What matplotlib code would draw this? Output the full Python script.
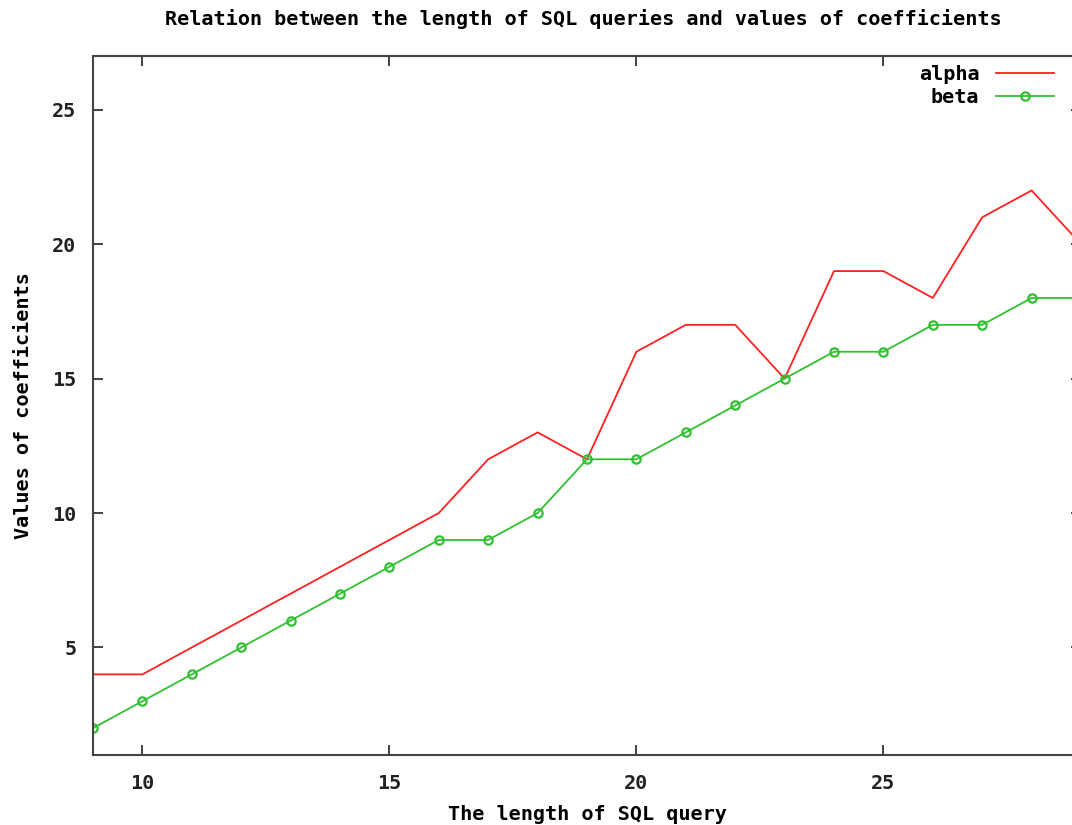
import matplotlib
matplotlib.use("Agg")
import matplotlib.pyplot as plt

# query length vs. fitted coefficients
query_len = [9, 10, 11, 12, 13, 14, 15, 16, 17, 18, 19, 20, 21, 22, 23, 24, 25, 26, 27, 28, 29]
alpha = [4, 4, 5, 6, 7, 8, 9, 10, 12, 13, 12, 16, 17, 17, 15, 19, 19, 18, 21, 22, 20]
beta = [2, 3, 4, 5, 6, 7, 8, 9, 9, 10, 12, 12, 13, 14, 15, 16, 16, 17, 17, 18, 18]

xticks = [10, 15, 20, 25]
yticks = [5, 10, 15, 20, 25]

plt.rcParams['font.family'] = ['DejaVu Sans Mono']
plt.rcParams['font.weight'] = 'bold'
FS = 14.5

fig = plt.figure(figsize=(10.72, 8.25), dpi=100)
# right side of the plot box runs just past the canvas edge
ax = fig.add_axes([93 / 1072, 70 / 825, 988 / 1072, 699 / 825])

ax.plot(query_len, alpha, color='#ff2020', lw=1.3, label='alpha')
ax.plot(query_len, beta, color='#30c030', lw=1.3, marker='o', ms=6,
        mfc='none', mew=1.6, label='beta')

ax.set_xlim(9, 29)
ax.set_ylim(1, 27)
ax.set_xticks(xticks)
ax.set_yticks(yticks)
ax.tick_params(direction='in', length=7, width=1.3, top=True, right=True,
               labelsize=FS, colors='#333333', labelcolor='#222222')
ax.tick_params(axis='x', pad=14)
ax.tick_params(axis='y', pad=12)
for sp in ax.spines.values():
    sp.set_color('#444444')
    sp.set_linewidth(1.5)

fig.suptitle('Relation between the length of SQL queries and values of coefficients',
             fontsize=FS, fontweight='bold', x=583 / 1072, y=1 - 19 / 825, va='center')
ax.set_xlabel('The length of SQL query', fontsize=FS, fontweight='bold', labelpad=8)
ax.set_ylabel('Values of coefficients', fontsize=FS, fontweight='bold', labelpad=14)

leg = ax.legend(loc='upper right', bbox_to_anchor=(1066 / 1072 * 1072 / 988 - 93 / 988, 1.004),
                frameon=False, markerfirst=False, fontsize=FS, handlelength=2.9,
                handletextpad=0.8, labelspacing=0.2, borderaxespad=0.2)

fig.savefig('out.png', dpi=100)
